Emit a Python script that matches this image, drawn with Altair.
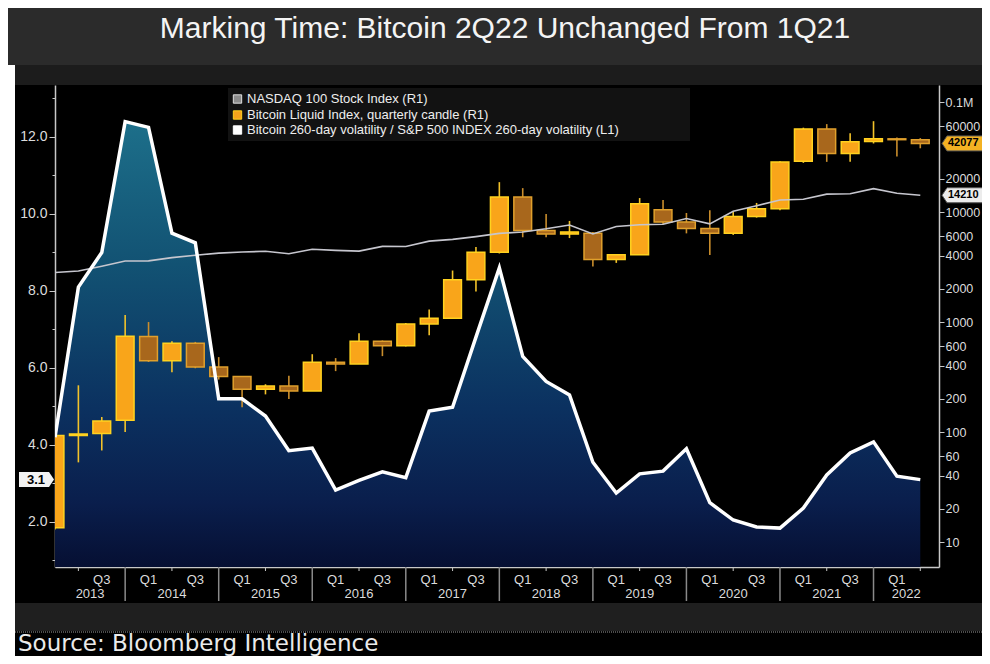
import altair as alt
import pandas as pd

# ---------------- data ----------------
quarters = ["Q1 2013", "Q2 2013", "Q3 2013", "Q4 2013",
            "Q1 2014", "Q2 2014", "Q3 2014", "Q4 2014",
            "Q1 2015", "Q2 2015", "Q3 2015", "Q4 2015",
            "Q1 2016", "Q2 2016", "Q3 2016", "Q4 2016",
            "Q1 2017", "Q2 2017", "Q3 2017", "Q4 2017",
            "Q1 2018", "Q2 2018", "Q3 2018", "Q4 2018",
            "Q1 2019", "Q2 2019", "Q3 2019", "Q4 2019",
            "Q1 2020", "Q2 2020", "Q3 2020", "Q4 2020",
            "Q1 2021", "Q2 2021", "Q3 2021", "Q4 2021",
            "Q1 2022", "Q2 2022"]
quarter_pos = list(range(38))

btc_open = [13.5, 93, 97, 128, 740, 445, 640, 390, 320, 245, 262, 236, 430, 416, 670, 608,
            960, 1080, 2420, 4300, 13700, 6800, 6300, 6400, 3700, 4100, 10500, 8100, 7100,
            6400, 9100, 10700, 28900, 57000, 34000, 43800, 46300, 45500]
btc_high = [95, 266, 137, 1158, 1000, 670, 660, 480, 320, 272, 325, 510, 470, 790, 680, 980,
            1300, 2940, 4800, 18700, 16500, 9600, 8300, 6600, 4100, 13400, 12900, 9800, 10400,
            10000, 12100, 29000, 58500, 63000, 52000, 67000, 47500, 47000]
btc_low = [13, 53, 68, 100, 433, 350, 380, 300, 168, 220, 200, 236, 358, 416, 490, 600,
           760, 1080, 1900, 4200, 5900, 5900, 5800, 3200, 3450, 4100, 7800, 6400, 4070,
           6200, 8900, 10400, 28000, 28600, 28600, 42000, 32000, 38000]
btc_close = [93, 96, 126, 744, 445, 640, 390, 320, 245, 262, 236, 430, 416, 670, 608, 960,
             1080, 2420, 4300, 13700, 6800, 6300, 6600, 3700, 4100, 11900, 8100, 7100, 6400,
             9100, 10700, 28500, 57000, 34000, 43500, 46300, 45500, 42077]
nasdaq = [2818, 2910, 3218, 3592, 3596, 3850, 4050, 4236, 4334, 4396, 4182, 4593, 4483, 4418,
          4875, 4864, 5436, 5647, 5980, 6396, 6581, 7040, 7628, 6330, 7378, 7671, 7750, 8733,
          7813, 10157, 11418, 12888, 13091, 14555, 14689, 16320, 14838, 14210]
vol_ratio = [4.2, 8.1, 9.0, 12.4, 12.25, 9.5, 9.25, 5.2, 5.2, 4.75, 3.85, 3.92, 2.83, 3.08,
             3.3, 3.15, 4.88, 4.98, 6.8, 8.6, 6.3, 5.65, 5.3, 3.55, 2.75, 3.25, 3.32, 3.9,
             2.5, 2.05, 1.87, 1.84, 2.36, 3.22, 3.79, 4.08, 3.19, 3.1]

left_ticks = [1, 2, 3, 4, 5, 6, 7, 8, 9, 10, 11, 12, 13]
right_ticks = [10, 20, 40, 60, 100, 200, 400, 600, 1000, 2000, 4000, 6000, 10000, 20000, 60000, 100000]

q_label_pos = [2, 4, 6, 8, 10, 12, 14, 16, 18, 20, 22, 24, 26, 28, 30, 32, 34, 36]
q_label_txt = ["Q3", "Q1", "Q3", "Q1", "Q3", "Q1", "Q3", "Q1", "Q3", "Q1", "Q3", "Q1", "Q3",
               "Q1", "Q3", "Q1", "Q3", "Q1"]
year_pos = [1.5, 5, 9, 13, 17, 21, 25, 29, 33, 36.4]
year_txt = ["2013", "2014", "2015", "2016", "2017", "2018", "2019", "2020", "2021", "2022"]
sep_pos = [3, 7, 11, 15, 19, 23, 27, 31, 35]
q2_tick_pos = [1, 5, 9, 13, 17, 21, 25, 29, 33, 37]

legend_labels = ["NASDAQ 100 Stock Index (R1)",
                 "Bitcoin Liquid Index, quarterly candle (R1)",
                 "Bitcoin 260-day volatility / S&P 500 INDEX 260-day volatility (L1)"]
legend_fill = ["#8c8c8c", "#f5a31c", "#ffffff"]
legend_stroke = ["#e0e0e0", "#ffd21f", "#ffffff"]

title_text = "Marking Time: Bitcoin 2Q22 Unchanged From 1Q21"
source_text = "Source: Bloomberg Intelligence"

# ---------------- layout ----------------
W, H = 884, 482
FONT = "Liberation Sans"

df = pd.DataFrame({"i": quarter_pos, "quarter": quarters, "open": btc_open, "high": btc_high,
                   "low": btc_low, "close": btc_close, "nasdaq": nasdaq, "vol": vol_ratio})
one = pd.DataFrame({"a": [0]})

xs = alt.Scale(domain=[0, 37.8], nice=False, zero=False)
xaxis = alt.Axis(title=None, labels=False, ticks=False, grid=False, domain=True,
                 domainColor="#c8c8c8", domainWidth=1.5)


def X(field="i:Q"):
    return alt.X(field, scale=xs, axis=xaxis)


ys_r = alt.Scale(type="log", domain=[5.93, 142900], nice=False)
yaxis_r = alt.Axis(orient="right", title=None, values=right_ticks, grid=False,
                   labelExpr="datum.value >= 100000 ? '0.1M' : format(datum.value, 'd')",
                   tickSize=5, tickColor="#c8c8c8", domainColor="#c8c8c8", domainWidth=1.5,
                   labelColor="#dcdcdc", labelFont=FONT, labelFontSize=12.5, labelPadding=1,
                   labelOverlap=False)

ys_l = alt.Scale(domain=[0.83, 13.35], nice=False, zero=False)
yaxis_l = alt.Axis(orient="left", title=None, values=left_ticks, grid=False,
                   labelExpr="datum.value % 2 == 0 ? format(datum.value, '.1f') : ''",
                   tickSize={"condition": {"test": "datum.value % 2 == 0", "value": 6}, "value": 3},
                   tickColor="#c8c8c8", domainColor="#c8c8c8", domainWidth=1.5,
                   labelColor="#dcdcdc", labelFont=FONT, labelFontSize=14, labelPadding=2,
                   labelOverlap=False)


def rect(x1, x2, y1, y2, color):
    return alt.Chart(one).mark_rect(color=color).encode(
        x=alt.value(x1), x2=alt.value(x2), y=alt.value(y1), y2=alt.value(y2))


# background bands
bg = [
    rect(-47, 927, -77, -20, "#2b2b2b"),
    rect(-47, 927, -20, 0, "#1c1c1c"),
    rect(-47, -40, -20, 573, "#ffffff"),
    rect(-40, 927, 518, 546, "#1f1f1f"),
]

# volatility ratio area (left axis)
grad = alt.Gradient(gradient="linear", x1=0, x2=0, y1=0, y2=1, stops=[
    alt.GradientStop(color="#1d6f8a", offset=0),
    alt.GradientStop(color="#125273", offset=0.3),
    alt.GradientStop(color="#0b3160", offset=0.6),
    alt.GradientStop(color="#0a1e4c", offset=0.8),
    alt.GradientStop(color="#040826", offset=1),
])
vol_area = alt.Chart(df).mark_area(color=grad, clip=True).encode(
    x=X(), y=alt.Y("vol:Q", scale=ys_l, axis=yaxis_l), y2=alt.value(H))

# candles + nasdaq (right axis, log)
up_test = "datum.close >= datum.open"
cand = alt.Chart(df).transform_calculate(xl="datum.i - 0.38", xr="datum.i + 0.38")
wicks = cand.mark_rule(strokeWidth=1.6, clip=True).encode(
    x=X(), y=alt.Y("low:Q", scale=ys_r, axis=yaxis_r), y2="high:Q",
    stroke=alt.condition(up_test, alt.value("#f2c22a"), alt.value("#c98d2c")))
bodies = cand.mark_rect(strokeWidth=1.5, clip=True).encode(
    x=X("xl:Q"), x2="xr:Q",
    y=alt.Y("open:Q", scale=ys_r, axis=yaxis_r), y2="close:Q",
    fill=alt.condition(up_test, alt.value("#f9a51a"), alt.value("#a8671c")),
    stroke=alt.condition(up_test, alt.value("#ffd21f"), alt.value("#e0a02c")))
nas_line = alt.Chart(df).mark_line(color="#c6c6ce", strokeWidth=1.6, clip=True).encode(
    x=X(), y=alt.Y("nasdaq:Q", scale=ys_r, axis=yaxis_r))

tags_r = pd.DataFrame({"v": [btc_close[-1], nasdaq[-1]],
                       "t": [str(btc_close[-1]), str(nasdaq[-1])],
                       "f": ["#f4b223", "#ececec"]})
tag_path_r = "M0,0L0.3,-0.45L2.5,-0.45L2.5,0.45L0.3,0.45Z"
tag_r_shape = alt.Chart(tags_r).mark_point(shape=tag_path_r, size=1111, filled=True, opacity=1,
                                            stroke="#555555", strokeWidth=1).encode(
    x=alt.value(W + 3), y=alt.Y("v:Q", scale=ys_r, axis=yaxis_r), fill=alt.Fill("f:N", scale=None))
tag_r_text = alt.Chart(tags_r).mark_text(align="left", baseline="middle", font=FONT, fontSize=11,
                                          fontWeight="bold", color="#000000").encode(
    x=alt.value(W + 9), y=alt.Y("v:Q", scale=ys_r, axis=yaxis_r), text="t:N")

btc_group = alt.layer(wicks, bodies, nas_line, tag_r_shape, tag_r_text)

# volatility line on top (same left-axis mapping, no axis)
vol_line = alt.Chart(df).mark_line(color="#ffffff", strokeWidth=3.5, clip=True).encode(
    x=X(), y=alt.Y("vol:Q", scale=ys_l, axis=None))
tag_l = pd.DataFrame({"v": [vol_ratio[-1]], "t": [str(vol_ratio[-1])]})
tag_path_l = "M0,0L-0.3,-0.45L-2.1,-0.45L-2.1,0.45L-0.3,0.45Z"
tag_l_shape = alt.Chart(tag_l).mark_point(shape=tag_path_l, size=1111, filled=True, opacity=1,
                                          color="#f2f2f2").encode(
    x=alt.value(-1), y=alt.Y("v:Q", scale=ys_l, axis=None))
tag_l_text = alt.Chart(tag_l).mark_text(align="center", baseline="middle", font=FONT, fontSize=13,
                                        fontWeight="bold", color="#000000").encode(
    x=alt.value(-19), y=alt.Y("v:Q", scale=ys_l, axis=None), text="t:N")
vol_top = alt.layer(vol_line, tag_l_shape, tag_l_text)

# custom x-axis decorations
sep_df = pd.DataFrame({"i": sep_pos})
q2_df = pd.DataFrame({"i": q2_tick_pos})
ql_df = pd.DataFrame({"i": q_label_pos, "t": q_label_txt})
yl_df = pd.DataFrame({"i": year_pos, "t": year_txt})
seps = alt.Chart(sep_df).mark_rule(color="#8a8a8a", strokeWidth=1.5).encode(
    x=X(), y=alt.value(482), y2=alt.value(516))
q2ticks = alt.Chart(q2_df).mark_rule(color="#c8c8c8", strokeWidth=1).encode(
    x=X(), y=alt.value(482), y2=alt.value(486))
qlabels = alt.Chart(ql_df).mark_text(font=FONT, fontSize=13, color="#dcdcdc",
                                     baseline="middle").encode(
    x=X(), y=alt.value(495), text="t:N")
ylabels = alt.Chart(yl_df).mark_text(font=FONT, fontSize=13, color="#dcdcdc",
                                     baseline="middle").encode(
    x=X(), y=alt.value(509), text="t:N")

# legend
legend_layers = [rect(173, 635, 3, 56, "#121212")]
row_y = [14, 30, 45]
for lab, f, s, yy in zip(legend_labels, legend_fill, legend_stroke, row_y):
    ld = pd.DataFrame({"t": [lab]})
    legend_layers.append(alt.Chart(ld).mark_square(size=70, filled=True, opacity=1, color=f,
                                                   stroke=s, strokeWidth=1).encode(
        x=alt.value(182.5), y=alt.value(yy)))
    legend_layers.append(alt.Chart(ld).mark_text(align="left", baseline="middle", font=FONT,
                                                 fontSize=13, color="#eeeeee").encode(
        x=alt.value(192), y=alt.value(yy), text="t:N"))

# title & source
title = alt.Chart(pd.DataFrame({"t": [title_text]})).mark_text(
    font=FONT, fontSize=30, color="#f4f4f4", align="center", baseline="alphabetic").encode(
    x=alt.value(450), y=alt.value(-47), text="t:N")
dots = alt.Chart(one).mark_rule(color="#9a9a9a", strokeWidth=1, strokeDash=[1, 1]).encode(
    x=alt.value(-40), x2=alt.value(927), y=alt.value(547))
source = alt.Chart(pd.DataFrame({"t": [source_text]})).mark_text(
    font="DejaVu Sans", fontSize=23, color="#eaeaea", align="left", baseline="alphabetic").encode(
    x=alt.value(-37), y=alt.value(566), text="t:N")

chart = alt.layer(
    *bg, vol_area, btc_group, vol_top, seps, q2ticks, qlabels, ylabels,
    *legend_layers, title, dots, source
).resolve_scale(y="independent").properties(
    width=W, height=H,
    padding={"left": 47, "top": 77, "right": 974 - 47 - W, "bottom": 89},
    autosize=alt.AutoSizeParams(type="none"),
).configure(background="#000000").configure_view(strokeWidth=0).configure_axis(grid=False)

chart.save("out.html", embed_options={"renderer": "svg", "actions": False})
